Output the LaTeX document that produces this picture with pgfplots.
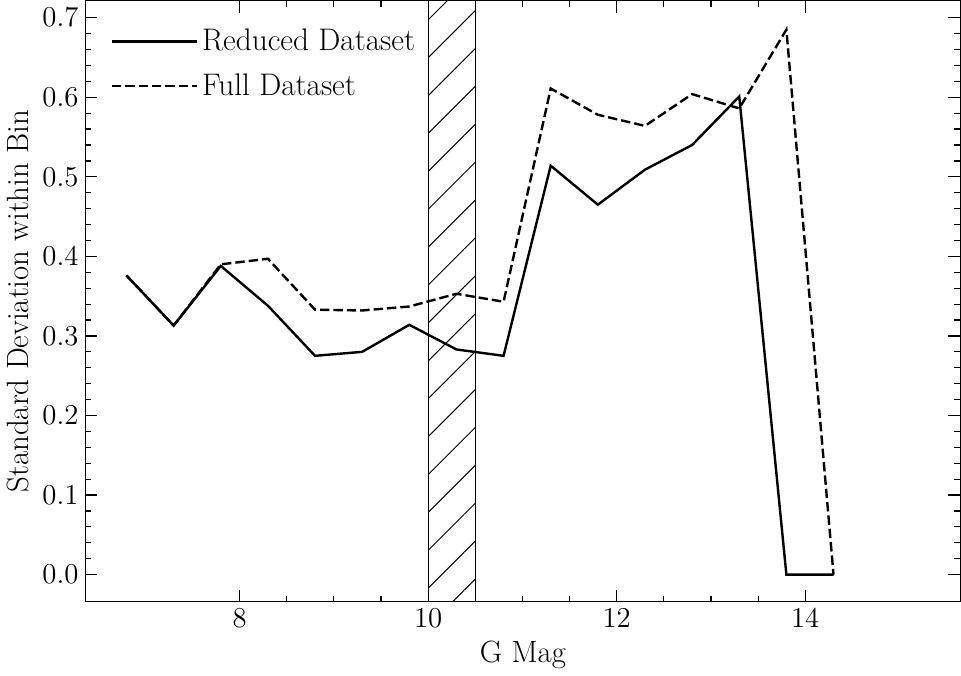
\documentclass[border=0pt]{standalone}
\usepackage{pgfplots}
\pgfplotsset{compat=1.18}
\usetikzlibrary{patterns.meta}
\begin{document}
\begin{tikzpicture}
\begin{axis}[
  scale only axis,
  width=437.5pt, height=300.5pt,
  xmin=6.365, xmax=15.645,
  ymin=-0.0339, ymax=0.7214,
  xtick={8,10,12,14},
  minor x tick num=3,
  ytick={0,0.1,0.2,0.3,0.4,0.5,0.6,0.7},
  minor y tick num=4,
  tick align=inside,
  xtick pos=both, ytick pos=both,
  major tick length=6pt, minor tick length=3pt,
  every tick/.style={black, line width=0.6pt},
  axis line style={line width=0.7pt},
  yticklabel style={/pgf/number format/.cd, fixed, fixed zerofill, precision=1},
  tick label style={font=\fontsize{14}{16}\selectfont},
  label style={font=\fontsize{15.4}{18}\selectfont},
  xlabel={G Mag},
  ylabel={Standard Deviation within Bin},
  legend style={draw=none, fill=none, at={(0.01,0.985)}, anchor=north west,
    xshift=5pt, yshift=-5.5pt,
    font=\fontsize{15.6}{18}\selectfont, row sep=6pt},
  legend cell align=left,
  legend image code/.code={\draw[#1] (0pt,0pt) -- (32.5pt,0pt); \path (0pt,0pt) -- (42.5pt,0pt);},
]
\addplot[draw=black, line width=0.6pt, pattern={Lines[angle=45, distance=13.4pt, line width=0.5pt]}, forget plot]
  coordinates {(10,-0.2) (10.5,-0.2) (10.5,0.9) (10,0.9) (10,-0.2)};
\addplot[black, line width=1.2pt] coordinates {
(6.8,0.376) (7.3,0.313) (7.8,0.388) (8.3,0.338) (8.8,0.275) (9.3,0.280)
(9.8,0.314) (10.3,0.283) (10.8,0.275) (11.3,0.514) (11.8,0.465) (12.3,0.509)
(12.8,0.540) (13.3,0.601) (13.8,0.0) (14.3,0.0)};
\addlegendentry{Reduced Dataset}
\addplot[black, line width=1.2pt, dash pattern=on 4.7pt off 2pt] coordinates {
(6.8,0.376) (7.3,0.313) (7.8,0.390) (8.3,0.397) (8.8,0.333) (9.3,0.332)
(9.8,0.337) (10.3,0.353) (10.8,0.343) (11.3,0.611) (11.8,0.578) (12.3,0.564)
(12.8,0.604) (13.3,0.586) (13.8,0.685) (14.3,0.0)};
\addlegendentry{Full Dataset}
\end{axis}
\end{tikzpicture}
\end{document}
